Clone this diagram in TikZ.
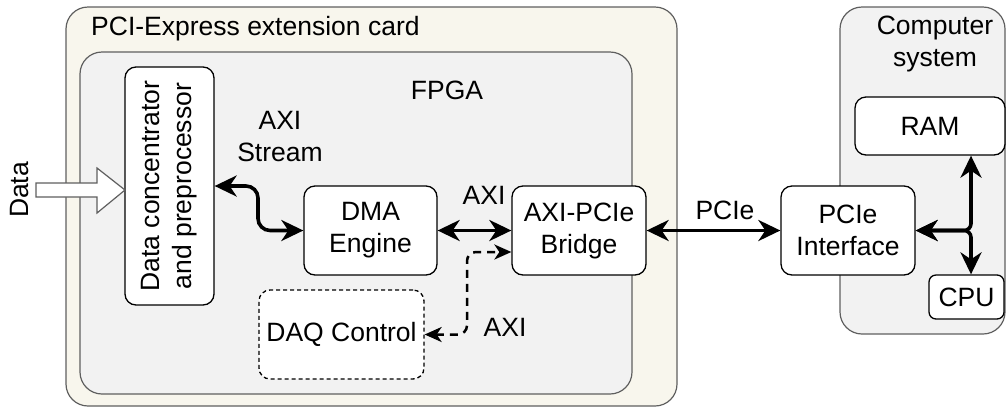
\documentclass[tikz,border=0pt]{standalone}
\usepackage{fontspec}
\setmainfont{Liberation Sans}
\usetikzlibrary{positioning, arrows.meta}

\definecolor{cardfill}{RGB}{248,246,237}
\definecolor{boxfill}{RGB}{242,242,242}
\definecolor{edgegray}{RGB}{95,95,95}

\begin{document}
\begin{tikzpicture}[x=1pt, y=-1pt, font=\fontsize{26.5}{32}\selectfont,
  frame/.style={draw=edgegray, line width=1.2pt, rounded corners=22pt, inner sep=0pt},
  blk/.style={draw, fill=white, line width=1.3pt, rounded corners=11pt, align=center, inner sep=0pt},
  bus/.style={line width=3.6pt, {Stealth[length=22pt,width=21pt,inset=7pt]}-{Stealth[length=22pt,width=21pt,inset=7pt]}},
  ctl/.style={line width=2.5pt, dashed, dash pattern=on 8pt off 6pt,
    {Stealth[length=17pt,width=15pt,inset=5pt]}-{Stealth[length=17pt,width=15pt,inset=5pt]}},
  lbl/.style={align=center, inner sep=0pt}]
  \useasboundingbox (0,0) rectangle (1008,408);
  % containers
  \node[frame, fill=cardfill, minimum width=611pt, minimum height=399pt] (card) at (371.5,206.5) {};
  \node[frame, fill=boxfill, minimum width=552pt, minimum height=342pt] (fpga) at (356,223) {};
  \node[frame, fill=boxfill, minimum width=165pt, minimum height=327pt] (sys) at (922.5,170.5) {};
  % blocks
  \node[blk, rotate=90, minimum width=238pt, minimum height=89pt] (conc) at (169.5,186)
    {Data concentrator\\and preprocessor};
  \node[blk, minimum width=133pt, minimum height=89pt] (dma) at (370.5,230.5) {DMA\\Engine};
  \node[blk, minimum width=134pt, minimum height=89pt] (bridge) at (579,230.5) {AXI-PCIe\\Bridge};
  \node[blk, dashed, dash pattern=on 4pt off 3pt, minimum width=165pt, minimum height=89pt] (daq)
    at (341.5,334.5) {DAQ Control};
  \node[blk, minimum width=134pt, minimum height=89pt] (iface) at (848,230.5) {PCIe\\Interface};
  \node[blk, minimum width=150pt, minimum height=58pt] (ram) at (930,126) {RAM};
  \node[blk, rounded corners=7pt, minimum width=75pt, minimum height=44pt] (cpu) at (966.5,297) {CPU};
  % labels
  \node[lbl, anchor=west] (cardlbl) at (91,29) {PCI-Express extension card};
  \node[lbl] (fpgalbl) at (447,90) {FPGA};
  \node[lbl] (streamlbl) at (280,137) {AXI\\Stream};
  \node[lbl] (axilbl) at (484,195) {AXI};
  \node[lbl] (ctllbl) at (505,327) {AXI};
  \node[lbl] (pcielbl) at (725,210) {PCIe};
  \node[lbl] (syslbl) at (935,44) {Computer\\system};
  \node[lbl, rotate=90] (datalbl) at (20,190) {Data};
  % input data
  \draw[draw=edgegray, fill=white, line width=1.2pt] (36,183) -- (97,183) -- (97,168)
    -- (125,190) -- (97,213) -- (97,197) -- (36,197) -- cycle;
  % connections
  \coordinate (bend) at (258,0);
  \draw[bus, rounded corners=12pt] (conc.south) -- (conc.south -| bend) -- (dma.west -| bend) -- (dma.west);
  \draw[bus] (dma.east) -- (bridge.west);
  \coordinate (ctlx) at (467,252);
  \draw[ctl, rounded corners=9pt] (daq.east) -- (daq.east -| ctlx) -- (ctlx) -- (ctlx -| bridge.west);
  \draw[bus] (bridge.east) -- (iface.west);
  \coordinate (j) at (971,230.5);
  \draw[bus, rounded corners=7pt] (iface.east) -- (j) -- (ram.south -| j);
  \draw[bus, rounded corners=7pt] (iface.east) -- (j) -- (cpu.north -| j);
\end{tikzpicture}
\end{document}
